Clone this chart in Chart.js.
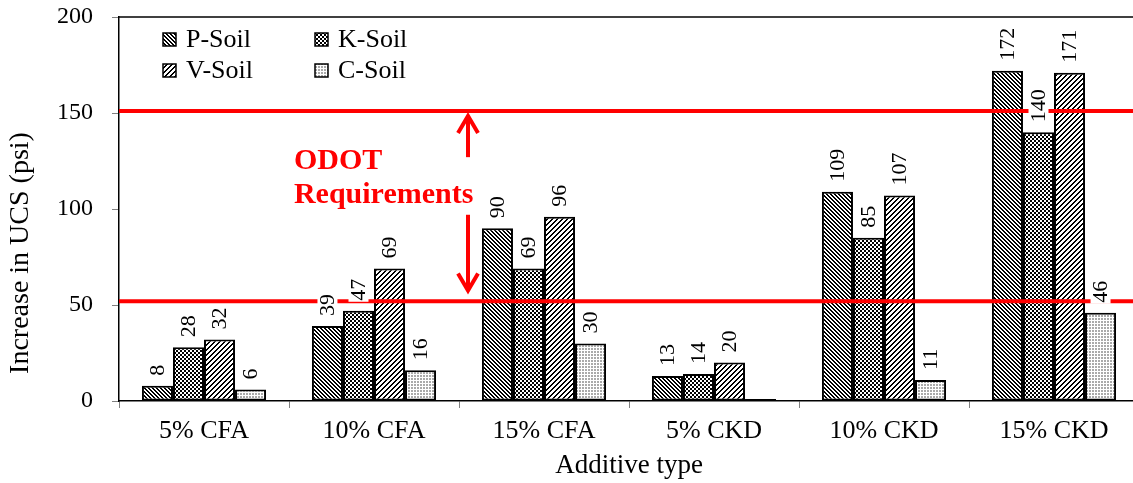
<!DOCTYPE html>
<html>
<head>
<meta charset="utf-8">
<script src="https://cdn.jsdelivr.net/npm/chart.js@4.4.0/dist/chart.umd.min.js"></script>
<style>
  html, body { margin: 0; padding: 0; background: #fff; overflow: hidden; }
  #wrap { width: 1146px; height: 483px; }
</style>
</head>
<body>
<div id="wrap"><canvas id="ucsChart" width="1146" height="483"></canvas></div>
<script>
// data
const categories = ['5% CFA', '10% CFA', '15% CFA', '5% CKD', '10% CKD', '15% CKD'];
const pSoil = [8, 39, 90, 13, 109, 172];
const kSoil = [28, 47, 69, 14, 85, 140];
const vSoil = [32, 69, 96, 20, 107, 171];
const cSoil = [6, 16, 30, 1, 11, 46];
const seriesNames = ['P-Soil', 'K-Soil', 'V-Soil', 'C-Soil'];
const yTicks = [0, 50, 100, 150, 200];
const odotLimits = [151, 52];          // the two red requirement lines
const odotText = ['ODOT', 'Requirements'];
const yTitle = 'Increase in UCS (psi)';

const FONT = '"Liberation Serif", "Times New Roman", serif';

const canvas = document.getElementById('ucsChart');
const ctx = canvas.getContext('2d');

// small bitmap tiles for the hatched fills
function makePattern(size, bg, fg, isOn) {
    const c = document.createElement('canvas');
    c.width = size;
    c.height = size;
    const g = c.getContext('2d');
    g.fillStyle = bg;
    g.fillRect(0, 0, size, size);
    for (let y = 0; y < size; y++) {
        for (let x = 0; x < size; x++) {
            const col = isOn(x, y);
            if (col) {
                g.fillStyle = col === true ? fg : col;
                g.fillRect(x, y, 1, 1);
            }
        }
    }
    return ctx.createPattern(c, 'repeat');
}

const patP = makePattern(4, '#fff', '#000', (x, y) => ((x - y + 8) % 4) < 2);
const patV = makePattern(5, '#fff', '#000', (x, y) => ((x + y) % 5) < 2);
// checker with 2px cells
const patK = makePattern(4, '#000', '#fff', (x, y) => ((Math.floor(x / 2) + Math.floor(y / 2)) % 2) === 0);
const patC = makePattern(3, '#fff', '#aaa', (x, y) => x < 2 && y < 2);
const patterns = [patP, patK, patV, patC];

// value labels, red lines, arrows, legend, y title
const overlayPlugin = {
    id: 'overlay',
    afterDatasetsDraw(chart) {
        const c = chart.ctx;
        const area = chart.chartArea;
        const xs = chart.scales.x;
        const ys = chart.scales.y;
        const step = xs.getPixelForValue(1) - xs.getPixelForValue(0);
        const xAt = f => xs.getPixelForValue(0) + f * step;

        c.save();
        // top frame line
        c.strokeStyle = '#000';
        c.lineWidth = 1.5;
        c.beginPath();
        c.moveTo(area.left, area.top);
        c.lineTo(area.right, area.top);
        c.stroke();

        // requirement lines
        c.strokeStyle = '#ff0000';
        c.lineWidth = 4;
        odotLimits.forEach(v => {
            const y = ys.getPixelForValue(v);
            c.beginPath();
            c.moveTo(area.left, y);
            c.lineTo(area.right, y);
            c.stroke();
        });

        // arrows
        function arrow(f, fromV, toV) {
            const x = xAt(f);
            const y0 = ys.getPixelForValue(fromV);
            const y1 = ys.getPixelForValue(toV);
            const dir = y1 < y0 ? 1 : -1;
            c.strokeStyle = '#ff0000';
            c.lineWidth = 4;
            c.lineCap = 'butt';
            c.beginPath();
            c.moveTo(x, y0);
            c.lineTo(x, y1 + dir * 2);
            c.stroke();
            c.beginPath();
            c.moveTo(x - 10, y1 + dir * 18);
            c.lineTo(x, y1 + dir * 1);
            c.lineTo(x + 10, y1 + dir * 18);
            c.stroke();
        }
        arrow(1.553, 127, 149);
        arrow(1.553, 97, 57);

        // ODOT text
        c.fillStyle = '#ff0000';
        c.font = 'bold 30px ' + FONT;
        c.textAlign = 'left';
        c.textBaseline = 'alphabetic';
        c.fillText(odotText[0], xAt(0.529), ys.getPixelForValue(120.8));
        c.fillText(odotText[1], xAt(0.529), ys.getPixelForValue(103.1));

        // value labels, rotated
        c.font = '22px ' + FONT;
        c.fillStyle = '#000';
        chart.data.datasets.forEach((ds, i) => {
            const meta = chart.getDatasetMeta(i);
            meta.data.forEach((bar, j) => {
                const v = ds.data[j];
                if (v < 2) return;
                const txt = String(v);
                const w = c.measureText(txt).width;
                c.save();
                c.translate(bar.x, bar.y - 10);
                c.rotate(-Math.PI / 2);
                c.fillStyle = '#fff';
                c.fillRect(-1, -10, w + 2, 20);
                c.fillStyle = '#000';
                c.textAlign = 'left';
                c.textBaseline = 'middle';
                c.fillText(txt, 0, 1);
                c.restore();
            });
        });

        // legend, 2 x 2 inside the plot
        c.font = '26px ' + FONT;
        c.textBaseline = 'middle';
        c.textAlign = 'left';
        chart.data.datasets.forEach((ds, i) => {
            const col = i % 2;
            const row = Math.floor(i / 2);
            const bx = area.left + 44 + col * 152;
            const by = area.top + 16 + row * 31;
            c.fillStyle = ds.backgroundColor;
            c.fillRect(bx, by, 13, 13);
            c.strokeStyle = '#000';
            c.lineWidth = 1.5;
            c.strokeRect(bx, by, 13, 13);
            c.fillStyle = '#000';
            c.fillText(ds.label, bx + 23, by + 7);
        });

        // y axis title, sits a bit below the plot middle in the original
        c.font = '28px ' + FONT;
        c.fillStyle = '#000';
        c.translate(21, area.bottom - 148);
        c.rotate(-Math.PI / 2);
        c.textAlign = 'center';
        c.textBaseline = 'middle';
        c.fillText(yTitle, 0, 0);
        c.restore();
    }
};

const allSeries = [pSoil, kSoil, vSoil, cSoil];

new Chart(ctx, {
    type: 'bar',
    data: {
        labels: categories,
        datasets: allSeries.map((vals, i) => ({
            label: seriesNames[i],
            data: vals,
            backgroundColor: patterns[i],
            borderColor: '#000',
            borderWidth: 2,
            borderSkipped: false,
            categoryPercentage: 0.73,
            barPercentage: 1.0
        }))
    },
    options: {
        responsive: false,
        animation: false,
        devicePixelRatio: 1,
        layout: { padding: { top: 17, right: 7, left: 0, bottom: 0 } },
        plugins: {
            legend: { display: false },
            tooltip: { enabled: false }
        },
        scales: {
            x: {
                grid: { drawOnChartArea: false, drawTicks: true, tickLength: 7, color: '#808080', offset: true },
                border: { color: '#000', width: 1.5 },
                ticks: { color: '#000', font: { family: FONT, size: 26 }, padding: 8, maxRotation: 0 },
                title: { display: true, text: 'Additive type', color: '#000', font: { family: FONT, size: 27 }, padding: { top: 0, bottom: 1 } },
                afterFit(scale) { scale.height = 82; }
            },
            y: {
                min: 0,
                max: 200,
                afterBuildTicks(scale) { scale.ticks = yTicks.map(v => ({ value: v })); },
                grid: { drawOnChartArea: false, drawTicks: true, tickLength: 7, color: '#808080' },
                border: { color: '#000', width: 1.5 },
                ticks: { color: '#000', font: { family: FONT, size: 24 }, padding: 19 },
                afterFit(scale) {
                    scale.width = 119;
                    // the big tick padding should not push the plot down
                    scale.paddingTop = 0;
                    scale.paddingBottom = 0;
                }
            }
        }
    },
    plugins: [overlayPlugin]
});
</script>
</body>
</html>
